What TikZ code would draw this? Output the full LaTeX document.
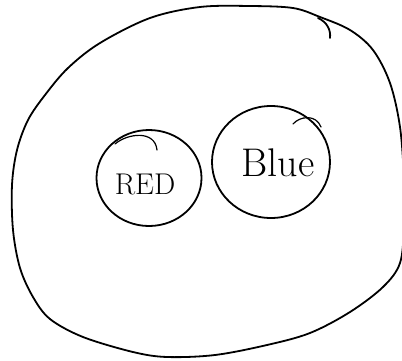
\documentclass[tikz,border=0pt]{standalone}
\usetikzlibrary{shapes.geometric}
\begin{document}
\begin{tikzpicture}[x=1pt,y=-1pt,line width=1.8pt,line join=round,line cap=round,
  setcircle/.style={draw,ellipse,inner sep=0pt},
  hand/.style={inner sep=0pt}]
\useasboundingbox (0,0) rectangle (402,360);
\begin{scope}
\clip (0,0) rectangle (402,360);
\draw plot[smooth cycle,tension=0.55] coordinates {(200,7) (250,6) (293,8) (320,17) (350,30) (373,50) (390,83) (400,127) (404,180) (404,225) (400,263) (383,287) (350,312) (310,333) (267,345) (215,355) (167,357) (133,352) (83,337) (50,319) (33,297) (20,268) (13,230) (12,185) (17,150) (28,120) (45,95) (68,68) (100,43) (150,18)};
\end{scope}
\coordinate (h1) at (318,18);
\coordinate (h2) at (330,38);
\draw (h1) .. controls (327,22) and (331,30) .. (h2);
\node[setcircle,minimum width=105pt,minimum height=96pt] (red) at (149,178) {};
\node[setcircle,minimum width=118pt,minimum height=112pt] (blue) at (271,162) {};
\node[hand,font=\fontsize{30}{30}\selectfont] (redtext) at (145,184) {RED};
\node[hand,font=\fontsize{40}{40}\selectfont] (bluetext) at (278,163) {Blue};
\coordinate (r1) at (115,144);
\coordinate (r2) at (157,150);
\draw[line width=1.2pt] (r1) .. controls (128,133) and (155,130) .. (r2);
\coordinate (b1) at (293,124);
\coordinate (b2) at (321,127);
\draw[line width=1.2pt] (b1) .. controls (300,116) and (316,114) .. (b2);
\end{tikzpicture}
\end{document}
